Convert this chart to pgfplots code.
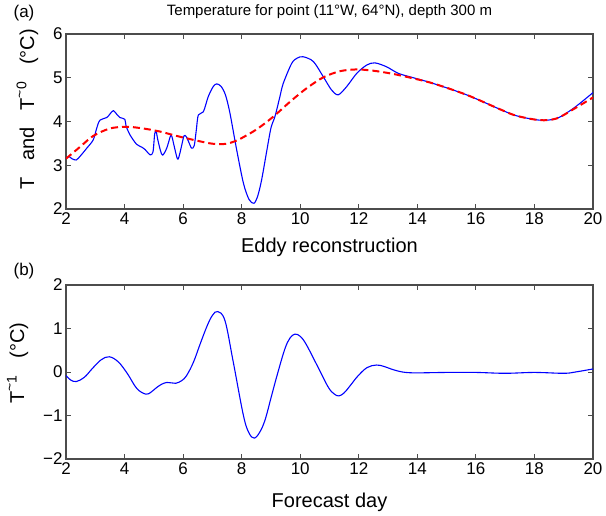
\documentclass[border=0pt]{standalone}
\usepackage{fontspec}
\setmainfont{Liberation Sans}
\usepackage{pgfplots}
\pgfplotsset{compat=1.18}
\newcommand{\tl}{\raisebox{0.3ex}{\textasciitilde}}
\begin{document}
\begin{tikzpicture}[x=1pt,y=1pt]
\useasboundingbox (0,0) rectangle (606,516);
\pgfplotsset{myax/.style={
  scale only axis, width=527pt, height=175pt,
  xmin=2, xmax=20, xtick={2,4,...,20},
  tick align=inside,
  axis line style={black!70, line width=1.1pt},
  tick style={black!70, line width=0.8pt},
  major tick length=5pt,
  tick label style={font=\fontsize{17}{17}\selectfont},
  /pgf/number format/assume math mode=true,
  label style={font=\fontsize{20}{20}\selectfont},
  every axis plot/.append style={line join=round},
}}
\begin{axis}[myax, at={(66pt,307pt)}, anchor=south west,
  ymin=2, ymax=6, ytick={2,3,4,5,6},
  xlabel={Eddy reconstruction},
  xlabel style={yshift=-7pt},
  ylabel style={at={(ticklabel cs:0.57)}, yshift=8pt},
  ylabel={T\ \ \ and\ \ \ T\textsuperscript{\tl 0}\ \ \ (°C)}]
\addplot[blue, line width=1.1pt, smooth, tension=0.5] coordinates {
(2.00,3.15) (2.10,3.20) (2.20,3.15) (2.35,3.12) (2.50,3.22) (2.71,3.39)
(2.93,3.58) (3.05,3.85) (3.16,4.03) (3.39,4.09) (3.50,4.17) (3.62,4.25)
(3.75,4.15) (3.84,4.09) (4.01,4.05) (4.05,3.90) (4.19,3.69) (4.41,3.48)
(4.60,3.41) (4.70,3.36) (4.87,3.24) (4.97,3.30) (5.03,3.72) (5.08,3.77)
(5.13,3.60) (5.22,3.35) (5.30,3.23) (5.44,3.39) (5.57,3.67) (5.62,3.65)
(5.69,3.45) (5.81,3.14) (5.88,3.25) (5.95,3.45) (6.03,3.67) (6.10,3.66)
(6.18,3.55) (6.29,3.39) (6.38,3.45) (6.45,3.80) (6.52,4.15) (6.69,4.22)
(6.86,4.57) (7.03,4.80) (7.15,4.86) (7.30,4.80) (7.45,4.60) (7.60,4.19)
(7.83,3.35) (8.06,2.59) (8.25,2.22) (8.42,2.13) (8.55,2.30) (8.68,2.66)
(8.85,3.30) (9.00,3.85) (9.14,4.12) (9.30,4.55) (9.42,4.87) (9.71,5.33)
(9.90,5.45) (10.10,5.48) (10.45,5.37)
(10.79,5.02) (11.07,4.72) (11.30,4.61) (11.59,4.80) (11.93,5.10) (12.27,5.29)
(12.55,5.34) (12.95,5.25) (13.35,5.10) (13.81,5.01) (14.54,4.87) (15.68,4.61)
(16.82,4.28) (17.39,4.13) (18.19,4.03) (18.76,4.07) (19.33,4.30) (20.00,4.66)
};
\addplot[red, line width=2pt, dash pattern=on 7pt off 4pt, smooth] coordinates {
(2.00,3.15) (2.48,3.42) (2.93,3.67) (3.50,3.84) (4.07,3.88) (4.64,3.84)
(5.21,3.77) (5.78,3.67) (6.35,3.58) (6.92,3.50) (7.30,3.48) (7.60,3.51)
(7.94,3.60) (8.51,3.82) (9.08,4.11) (9.65,4.45) (10.22,4.76) (10.79,5.01)
(11.36,5.15) (11.93,5.19) (12.50,5.16) (13.07,5.10) (13.64,5.02) (14.54,4.87)
(15.68,4.61) (16.82,4.28) (17.39,4.13) (18.19,4.03) (18.76,4.07) (19.33,4.28)
(20.00,4.55)
};
\end{axis}
\begin{axis}[myax, height=174pt, at={(66pt,57pt)}, anchor=south west,
  ymin=-2, ymax=2, ytick={-2,-1,0,1,2}, yticklabels={−2,−1,0,1,2},
  xlabel={Forecast day},
  xlabel style={yshift=-12pt},
  ylabel style={at={(ticklabel cs:0.55)}, yshift=8pt},
  ylabel={T\textsuperscript{\tl 1}\ \ \ (°C)}]
\addplot[blue, line width=1.1pt, smooth, tension=0.6] coordinates {
(2.00,-0.08) (2.15,-0.18) (2.35,-0.22) (2.63,-0.12) (2.90,0.08) (3.20,0.28)
(3.48,0.35) (3.79,0.23) (4.10,-0.04) (4.42,-0.38) (4.73,-0.51) (4.91,-0.46)
(5.09,-0.36) (5.27,-0.28) (5.45,-0.24) (5.60,-0.25) (5.75,-0.26) (5.95,-0.20)
(6.12,-0.08) (6.35,0.22) (6.58,0.64) (6.82,1.06) (7.00,1.30) (7.18,1.39)
(7.43,1.18) (7.71,0.24) (8.06,-1.00) (8.25,-1.40) (8.43,-1.52) (8.62,-1.38)
(8.80,-1.10) (9.00,-0.60) (9.20,-0.10) (9.47,0.52) (9.65,0.78) (9.82,0.87)
(10.00,0.82) (10.20,0.64) (10.57,0.16) (10.95,-0.34) (11.15,-0.50) (11.32,-0.55)
(11.50,-0.48) (11.70,-0.32) (11.96,-0.10) (12.28,0.10) (12.60,0.16) (12.85,0.13)
(13.10,0.07) (13.35,0.02) (13.60,-0.01) (14.00,-0.02) (15.00,-0.01) (16.00,-0.01)
(17.00,-0.03) (18.00,-0.01) (19.00,-0.03) (19.40,0.00) (20.00,0.07)
};
\end{axis}
\node[font=\fontsize{15}{15}\selectfont] at (329.5,504) {Temperature for point (11°W, 64°N), depth 300 m};
\node[font=\fontsize{17}{17}\selectfont] at (24,503) {(a)};
\node[font=\fontsize{17}{17}\selectfont] at (24,245) {(b)};
\end{tikzpicture}
\end{document}
